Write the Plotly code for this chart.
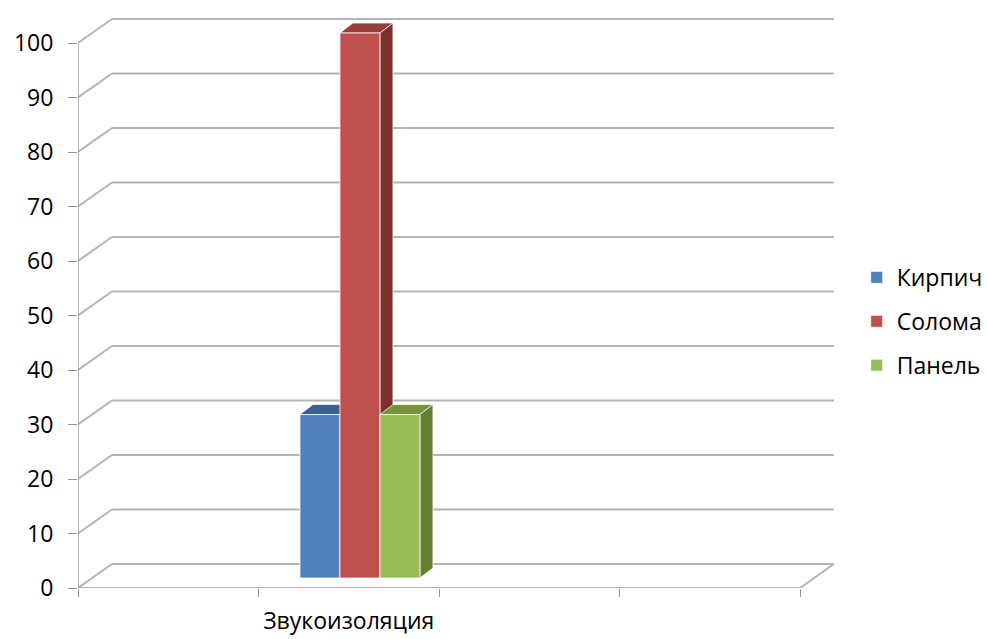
import plotly.graph_objects as go

# ---- data -------------------------------------------------------------
categories = ["", "Звукоизоляция", "", ""]
series_names = ["Кирпич", "Солома", "Панель"]
kirpich = [None, 30, None, None]
soloma = [None, 100, None, None]
panel = [None, 30, None, None]
y_ticks = list(range(0, 101, 10))

series_values = [kirpich, soloma, panel]
front_colors = ["#4F81BD", "#C0504D", "#9BBB59"]
top_colors = ["#3A6191", "#963E3C", "#77933C"]
side_colors = ["#33557F", "#7E302E", "#667D36"]

# ---- pseudo-3D geometry (data units) ---------------------------------
DEPTH_X, DEPTH_Y = 0.188, 4.40       # offset of the back wall
BAR_SHIFT_X, BAR_BASE = 0.062, 1.83  # bars stand in the middle of the floor
BAR_DX, BAR_DY = 0.072, 1.83         # depth of each column
BAR_W = 0.2216

X_LO, X_HI = -0.5, len(categories) - 0.5
GRID = "#B4B4B4"
AXIS = "#969696"

fig = go.Figure()
shapes = []

# back wall grid lines with their receding edges
for v in y_ticks:
    shapes.append(dict(type="line", x0=X_LO, y0=v, x1=X_LO + DEPTH_X, y1=v + DEPTH_Y,
                       line=dict(color=GRID, width=2), layer="below"))
    shapes.append(dict(type="line", x0=X_LO + DEPTH_X, y0=v + DEPTH_Y,
                       x1=X_HI + DEPTH_X, y1=v + DEPTH_Y,
                       line=dict(color=GRID, width=2), layer="below"))
# right edge of the floor
shapes.append(dict(type="line", x0=X_HI, y0=0, x1=X_HI + DEPTH_X, y1=DEPTH_Y,
                   line=dict(color=GRID, width=2), layer="below"))
# front axes
shapes.append(dict(type="line", x0=X_LO, y0=0, x1=X_HI, y1=0,
                   line=dict(color=AXIS, width=1.3), layer="below"))
shapes.append(dict(type="line", x0=X_LO, y0=0, x1=X_LO, y1=max(y_ticks),
                   line=dict(color=AXIS, width=1.3), layer="below"))

n = len(series_names)
for k, (name, vals) in enumerate(zip(series_names, series_values)):
    offset = -n * BAR_W / 2 + k * BAR_W
    xs, ys = [], []
    for i, v in enumerate(vals):
        if v is None:
            continue
        xc = i + BAR_SHIFT_X
        xs.append(xc)
        ys.append(v)
        x0, x1 = xc + offset, xc + offset + BAR_W
        top = BAR_BASE + v
        # top face
        shapes.append(dict(
            type="path",
            path=f"M{x0},{top} L{x1},{top} L{x1 + BAR_DX},{top + BAR_DY} L{x0 + BAR_DX},{top + BAR_DY} Z",
            fillcolor=top_colors[k], line=dict(color="rgba(255,255,255,0.7)", width=1), layer="below"))
        # right side face
        shapes.append(dict(
            type="path",
            path=f"M{x1},{BAR_BASE} L{x1 + BAR_DX},{BAR_BASE + BAR_DY} L{x1 + BAR_DX},{top + BAR_DY} L{x1},{top} Z",
            fillcolor=side_colors[k], line=dict(color="rgba(255,255,255,0.7)", width=1), layer="below"))
    fig.add_trace(go.Bar(
        name=name, x=xs, y=ys, base=BAR_BASE, width=BAR_W, offset=offset,
        marker=dict(color=front_colors[k], line=dict(color="rgba(255,255,255,0.8)", width=1)),
        legendgroup=name,
    ))

FONT = "Open Sans"
fig.update_layout(
    width=987, height=639,
    margin=dict(l=78, r=150, t=14, b=51, autoexpand=False),
    paper_bgcolor="white", plot_bgcolor="white",
    barmode="overlay",
    shapes=shapes,
    font=dict(family=FONT, size=23, color="#000000"),
    showlegend=True,
    legend=dict(xref="container", yref="container",
                x=0.868, xanchor="left", y=0.497, yanchor="middle",
                font=dict(family=FONT, size=23, color="#000000"),
                tracegroupgap=11, bgcolor="rgba(0,0,0,0)"),
    xaxis=dict(range=[X_LO, X_LO + 759 / 180.5], showgrid=False, zeroline=False,
               showline=False, automargin=False, tickmode="array",
               tickvals=list(range(len(categories))), ticktext=categories,
               ticks="", ticklabelstandoff=17,
               minor=dict(tickmode="array",
                          tickvals=[i - 0.5 for i in range(len(categories) + 1)],
                          ticks="outside", ticklen=8, tickcolor=AXIS, tickwidth=1.3)),
    yaxis=dict(range=[0, 574 / 5.45], showgrid=False, zeroline=False, showline=False,
               automargin=False,
               tickmode="array", tickvals=y_ticks, ticks="outside", ticklen=9,
               tickcolor=AXIS, tickwidth=1.3, ticklabelstandoff=10),
)

fig.write_html("out.html")
